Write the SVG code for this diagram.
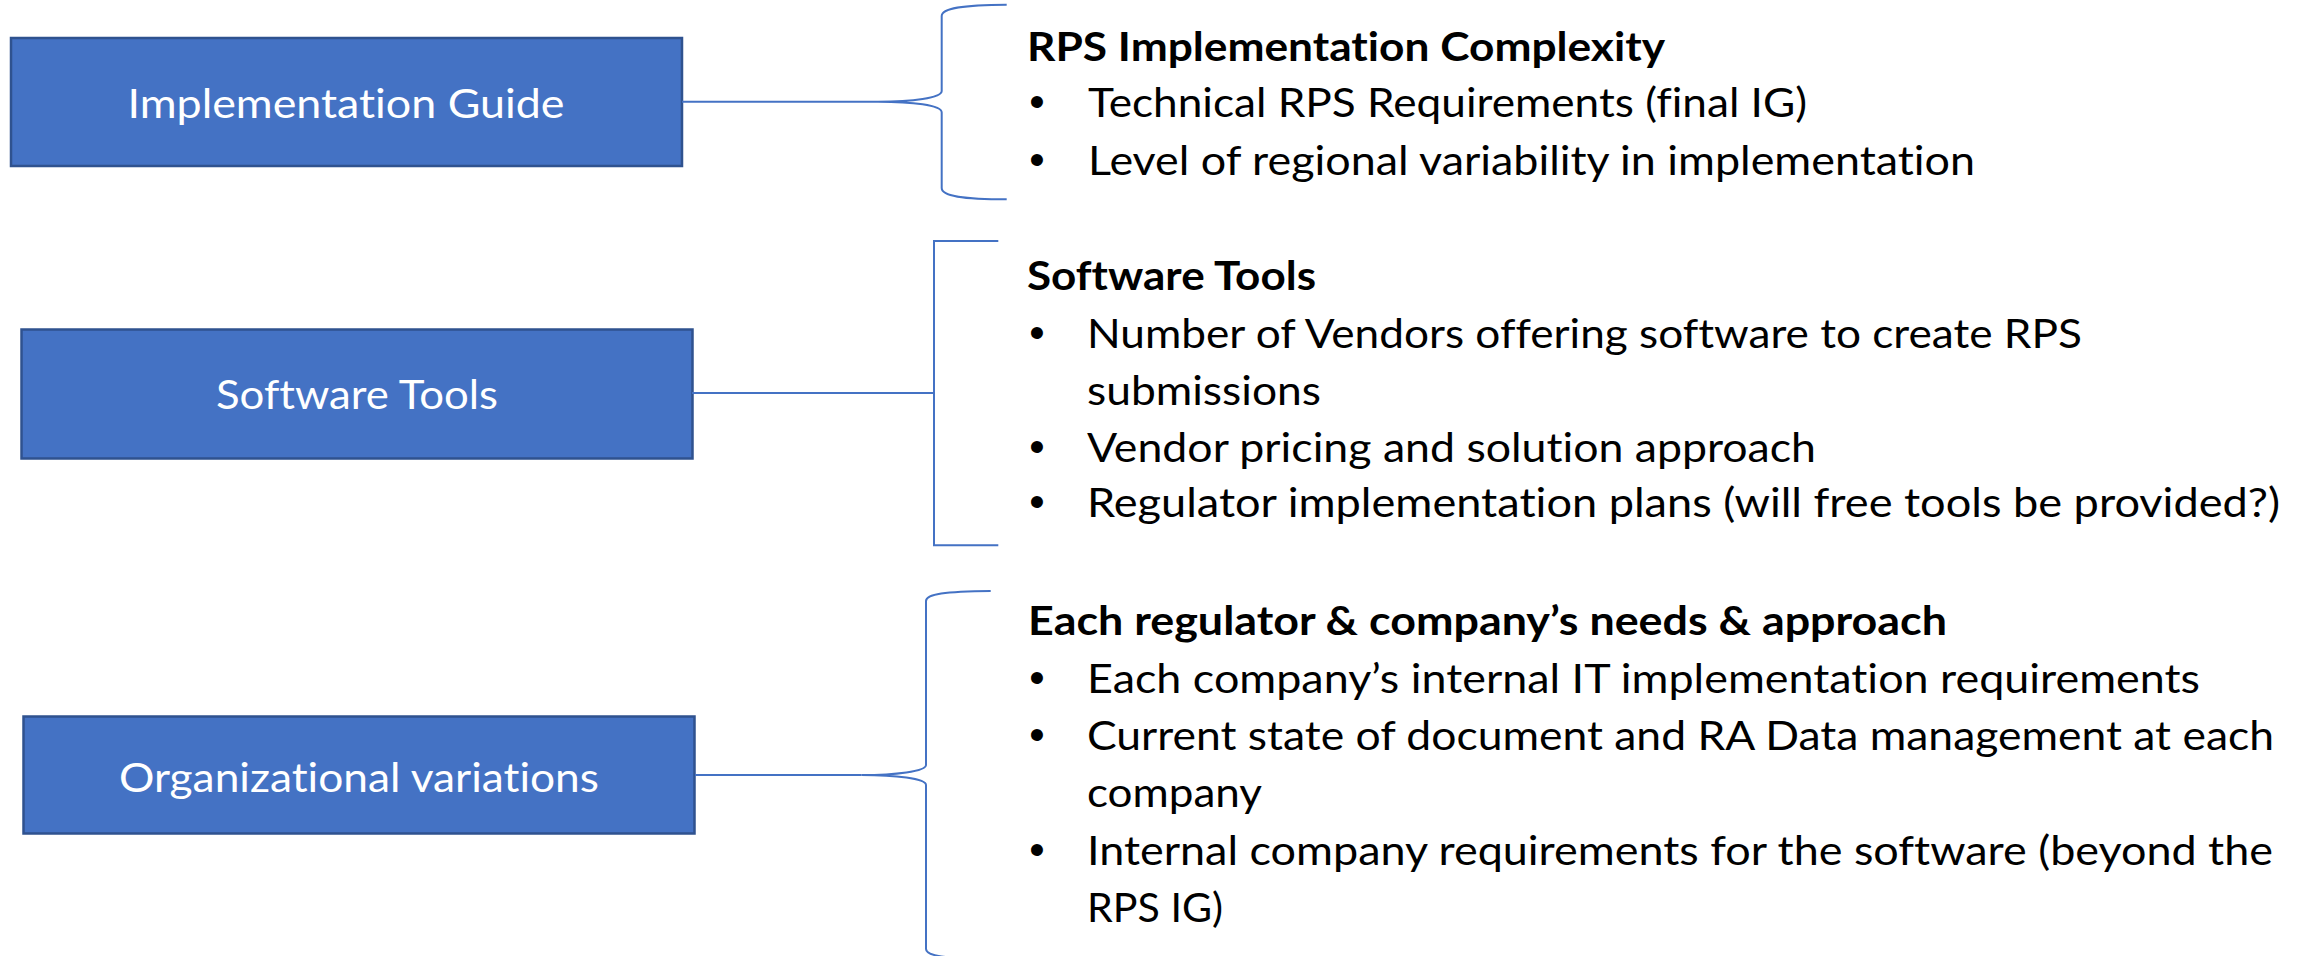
<svg xmlns="http://www.w3.org/2000/svg" width="2310" height="956" viewBox="0 0 2310 956">
<style>
text{font-variant-ligatures:none;font-feature-settings:"liga" 0,"clig" 0,"dlig" 0,"calt" 0}
.box{fill:#4472C4;stroke:#2F528F;stroke-width:2.5}
.lbl{font-family:Lato,"Liberation Sans",sans-serif;font-size:41px;fill:#FFFFFF;text-anchor:middle}
.con{fill:none;stroke:#4472C4;stroke-width:2}
.hd{font-family:Lato,"Liberation Sans",sans-serif;font-size:41px;font-weight:bold;fill:#000000}
.tx{font-family:Lato,"Liberation Sans",sans-serif;font-size:41px;fill:#000000}
.bl{font-family:"Liberation Sans",Arial,sans-serif;font-size:44px;fill:#000000;text-anchor:middle}
</style>
<rect width="2310" height="956" fill="#FFFFFF"/>
<g id="node-implementation-guide">
<rect class="box" x="11" y="38" width="671" height="128"/>
<text class="lbl" x="346" y="118" textLength="437" lengthAdjust="spacingAndGlyphs">Implementation Guide</text>
</g>
<g id="node-software-tools">
<rect class="box" x="21.5" y="329.5" width="671" height="129"/>
<text class="lbl" x="357" y="409" textLength="282" lengthAdjust="spacingAndGlyphs">Software Tools</text>
</g>
<g id="node-organizational-variations">
<rect class="box" x="23.5" y="716.5" width="671" height="117"/>
<text class="lbl" x="359" y="791.5" textLength="480" lengthAdjust="spacingAndGlyphs">Organizational variations</text>
</g>
<g id="connectors">
<path class="con" d="M682,101.7 H878"/>
<path class="con" d="M1006.7,4.7 C962,5 941.7,8 941.7,16 V91 C941.7,98 912,101.7 878,101.7 C912,101.7 941.7,105 941.7,112.4 V188 C941.7,196 962,199.3 1006.7,199.3"/>
<path class="con" d="M692,393 H934"/>
<path class="con" d="M998.3,241 H934 V545.3 H998.3"/>
<path class="con" d="M695,775 H861.7"/>
<path class="con" d="M990.7,591 C945,591.5 926,594 926,601 V765 C926,771.5 895,775 861.7,775 C895,775 926,778.5 926,785 V949 C926,956 945,958.5 990.7,959"/>
</g>
<g id="text-rps-complexity">
<text class="hd" x="1027" y="60.5" textLength="638" lengthAdjust="spacingAndGlyphs">RPS Implementation Complexity</text>
<text class="bl" x="1037" y="117.3">•</text>
<text class="tx" x="1088" y="117.3" textLength="719" lengthAdjust="spacingAndGlyphs">Technical RPS Requirements (final IG)</text>
<text class="bl" x="1037" y="175">•</text>
<text class="tx" x="1088" y="175" textLength="887" lengthAdjust="spacingAndGlyphs">Level of regional variability in implementation</text>
</g>
<g id="text-software-tools">
<text class="hd" x="1027" y="290" textLength="289" lengthAdjust="spacingAndGlyphs">Software Tools</text>
<text class="bl" x="1037" y="348.3">•</text>
<text class="tx" x="1087" y="348.3" textLength="995" lengthAdjust="spacingAndGlyphs">Number of Vendors offering software to create RPS</text>
<text class="tx" x="1087" y="405" textLength="234" lengthAdjust="spacingAndGlyphs">submissions</text>
<text class="bl" x="1037" y="461.7">•</text>
<text class="tx" x="1087" y="461.7" textLength="729" lengthAdjust="spacingAndGlyphs">Vendor pricing and solution approach</text>
<text class="bl" x="1037" y="517.3">•</text>
<text class="tx" x="1087" y="517.3" textLength="1193" lengthAdjust="spacingAndGlyphs">Regulator implementation plans (will free tools be provided?)</text>
</g>
<g id="text-org-needs">
<text class="hd" x="1028" y="635" textLength="919" lengthAdjust="spacingAndGlyphs">Each regulator &amp; company’s needs &amp; approach</text>
<text class="bl" x="1037" y="693.3">•</text>
<text class="tx" x="1087" y="693.3" textLength="1113" lengthAdjust="spacingAndGlyphs">Each company’s internal IT implementation requirements</text>
<text class="bl" x="1037" y="750">•</text>
<text class="tx" x="1087" y="750" textLength="1187" lengthAdjust="spacingAndGlyphs">Current state of document and RA Data management at each</text>
<text class="tx" x="1087" y="806.7" textLength="175" lengthAdjust="spacingAndGlyphs">company</text>
<text class="bl" x="1037" y="865">•</text>
<text class="tx" x="1087" y="865" textLength="1186" lengthAdjust="spacingAndGlyphs">Internal company requirements for the software (beyond the</text>
<text class="tx" x="1087" y="921.7" textLength="136" lengthAdjust="spacingAndGlyphs">RPS IG)</text>
</g>
</svg>
